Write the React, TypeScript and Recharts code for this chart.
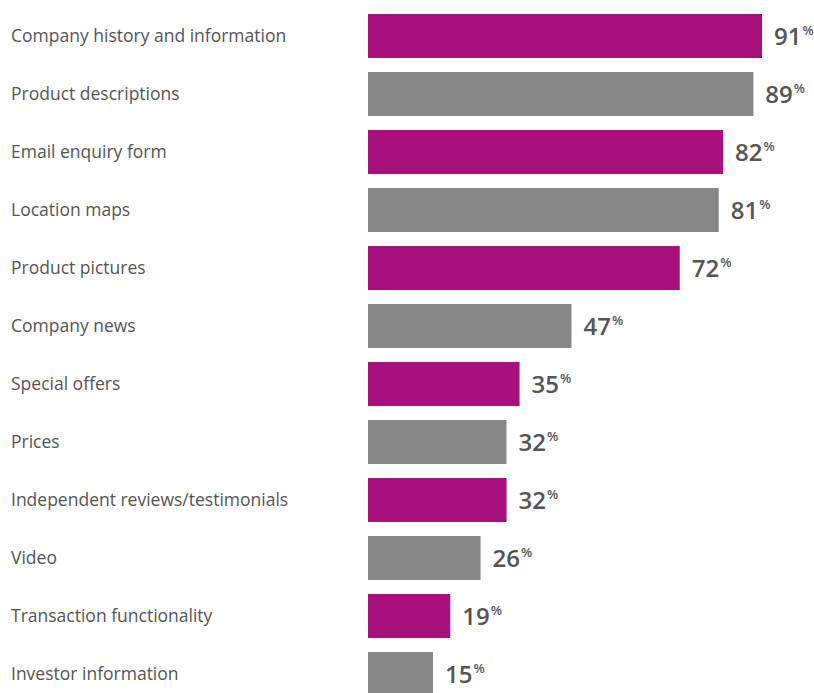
import { BarChart, Bar, XAxis, YAxis, Cell, LabelList } from 'recharts';

const categories = [
  'Company history and information',
  'Product descriptions',
  'Email enquiry form',
  'Location maps',
  'Product pictures',
  'Company news',
  'Special offers',
  'Prices',
  'Independent reviews/testimonials',
  'Video',
  'Transaction functionality',
  'Investor information',
];

const percentages = [91, 89, 82, 81, 72, 47, 35, 32, 32, 26, 19, 15];

const MAGENTA = '#A8107E';
const GREY = '#878787';
const TEXT = '#555555';

const data = categories.map((name, i) => ({ name, value: percentages[i] }));

function CategoryTick({ y, payload }: { y?: number; payload?: { value: string } }) {
  return (
    <text
      x={11}
      y={y}
      dy={6}
      textAnchor="start"
      fill={TEXT}
      fontSize={17.5}
      fontFamily="'Open Sans', sans-serif"
    >
      {payload?.value}
    </text>
  );
}

function PercentLabel(props: any) {
  const { x, y, width, height, value } = props;
  const cy = y + height / 2;
  return (
    <text x={x + width + 12} y={cy + 9} fill={TEXT} fontFamily="'Open Sans', sans-serif">
      <tspan fontSize={24} fontWeight={600}>
        {value}
      </tspan>
      <tspan fontSize={13} fontWeight={600} dx={1} dy={-10}>
        %
      </tspan>
    </text>
  );
}

export default function App() {
  return (
    <div style={{ position: 'absolute', left: 0, top: 0, width: 814, height: 720, background: '#fff' }}>
      <BarChart
        width={814}
        height={715}
        data={data}
        layout="vertical"
        margin={{ top: 7, right: 13, left: 0, bottom: 12 }}
        barCategoryGap={7}
      >
        <XAxis type="number" domain={[0, 100]} hide />
        <YAxis
          type="category"
          dataKey="name"
          width={368}
          axisLine={false}
          tickLine={false}
          tick={<CategoryTick />}
          interval={0}
        />
        <Bar dataKey="value" barSize={44} isAnimationActive={false}>
          {data.map((d, i) => (
            <Cell key={d.name} fill={i % 2 === 0 ? MAGENTA : GREY} />
          ))}
          <LabelList dataKey="value" content={<PercentLabel />} />
        </Bar>
      </BarChart>
    </div>
  );
}
